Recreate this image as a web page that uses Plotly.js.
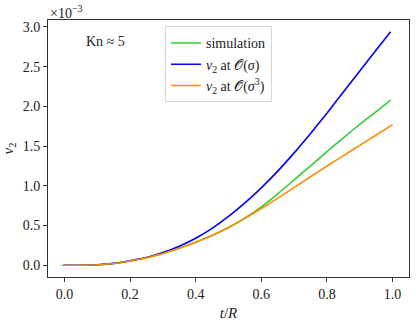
<!DOCTYPE html>
<html>
<head>
<meta charset="utf-8">
<script src="https://cdn.plot.ly/plotly-3.0.1.min.js"></script>
<style>
  html, body { margin: 0; padding: 0; background: #fff; }
  #chart { width: 416px; height: 322px; }
</style>
</head>
<body>
<div id="chart"></div>
<script>
// values of v2 in units of 1e-3
var tSim = [-0.007, 0, 0.05, 0.1, 0.15, 0.2, 0.25, 0.3, 0.35, 0.4, 0.45, 0.5, 0.55, 0.6, 0.65, 0.7, 0.75, 0.8, 0.85, 0.9, 0.95, 0.994];
var vSim = [0, 0, 0.001, 0.007, 0.022, 0.055, 0.095, 0.15, 0.215, 0.29, 0.375, 0.475, 0.595, 0.735, 0.9, 1.075, 1.25, 1.43, 1.605, 1.775, 1.935, 2.08];

var tModel = [0, 0.05, 0.1, 0.15, 0.2, 0.25, 0.3, 0.35, 0.4, 0.45, 0.5, 0.55, 0.6, 0.65, 0.7, 0.75, 0.8, 0.85, 0.9, 0.95, 0.994];
var vOrder1 = [0, 0.001, 0.007, 0.024, 0.058, 0.098, 0.16, 0.24, 0.34, 0.465, 0.615, 0.785, 0.975, 1.185, 1.415, 1.66, 1.915, 2.18, 2.445, 2.71, 2.94];

var tOrder3 = [0, 0.05, 0.1, 0.15, 0.2, 0.25, 0.3, 0.35, 0.4, 0.45, 0.5, 0.55, 0.6, 0.65, 0.7, 0.75, 0.8, 0.85, 0.9, 0.95, 1.0];
var vOrder3 = [0, 0.001, 0.007, 0.022, 0.055, 0.095, 0.15, 0.215, 0.29, 0.375, 0.475, 0.59, 0.715, 0.845, 0.98, 1.115, 1.25, 1.38, 1.51, 1.64, 1.77];

var yTicks = [0, 0.5, 1.0, 1.5, 2.0, 2.5, 3.0];
var xTicks = [0, 0.2, 0.4, 0.6, 0.8, 1.0];

var serif = "'Liberation Serif', 'DejaVu Serif', serif";

var traces = [
    { x: tSim, y: vSim, mode: 'lines', name: 'simulation', line: { color: '#33cc33', width: 1.6, shape: 'spline', smoothing: 0.5 } },
    { x: tModel, y: vOrder1, mode: 'lines', name: '<i>v</i><sub>2</sub> at 𝒪(<i>σ</i>)', line: { color: '#0000ff', width: 1.6, shape: 'spline', smoothing: 0.5 } },
    { x: tOrder3, y: vOrder3, mode: 'lines', name: '<i>v</i><sub>2</sub> at 𝒪(<i>σ</i><sup>3</sup>)', line: { color: '#ff8c00', width: 1.6, shape: 'spline', smoothing: 0.5 } }
];

var layout = {
    width: 416, height: 322,
    margin: { l: 48, r: 7, t: 20, b: 45 },
    paper_bgcolor: '#fff', plot_bgcolor: '#fff',
    font: { family: serif, size: 14, color: '#222' },
    showlegend: true,
    legend: {
        x: 0.324, y: 0.975, xanchor: 'left', yanchor: 'top',
        bgcolor: 'rgba(255,255,255,0.8)', bordercolor: '#d8d8d8', borderwidth: 1,
        font: { family: serif, size: 14 }, tracegroupgap: 0
    },
    xaxis: {
        range: [-0.05, 1.05], tickvals: xTicks, ticktext: xTicks.map(function (v) { return v.toFixed(1); }),
        ticks: 'outside', ticklen: 4, tickcolor: '#333', showgrid: false, zeroline: false,
        showline: true, mirror: true, linecolor: '#333', linewidth: 1,
        tickfont: { family: serif, size: 14 },
        title: { text: '<i>t</i>/<i>R</i>', font: { family: serif, size: 15 }, standoff: 6 }
    },
    yaxis: {
        range: [-0.147, 3.087], tickvals: yTicks, ticktext: yTicks.map(function (v) { return v.toFixed(1); }),
        ticks: 'outside', ticklen: 4, tickcolor: '#333', showgrid: false, zeroline: false,
        showline: true, mirror: true, linecolor: '#333', linewidth: 1,
        tickfont: { family: serif, size: 14 },
        title: { text: '<i>v</i><sub>2</sub>', font: { family: serif, size: 15 }, standoff: 6 }
    },
    annotations: [
        { xref: 'paper', yref: 'paper', x: 0, y: 1, xanchor: 'left', yanchor: 'bottom', showarrow: false,
          text: '×10<sup>−3</sup>', font: { family: serif, size: 14 }, yshift: -3 },
        { xref: 'paper', yref: 'paper', x: 0.16, y: 0.915, xanchor: 'center', yanchor: 'middle', showarrow: false,
          text: 'Kn ≈ 5', font: { family: serif, size: 14 } }
    ]
};

Plotly.newPlot('chart', traces, layout, { displayModeBar: false, staticPlot: true });
</script>
</body>
</html>
